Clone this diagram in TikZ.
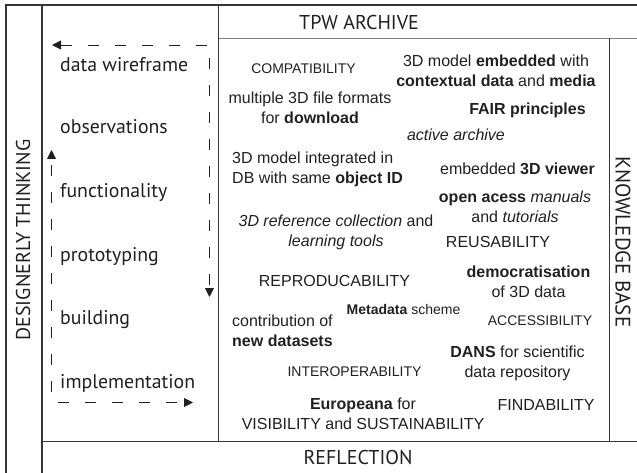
\documentclass[tikz,border=0pt]{standalone}
\usepackage{fontspec}
\setmainfont{Liberation Sans}
\newfontfamily\myr{PT Sans}
\usetikzlibrary{arrows.meta}
\definecolor{ink}{HTML}{231F20}
\begin{document}
\begin{tikzpicture}[x=1pt,y=-1pt,
  frame/.style={line width=1.1pt, draw=ink!90},
  sepline/.style={line width=1.8pt, draw=black!50},
  lbl/.style={font=\myr\fontsize{20}{24}\selectfont, text=ink, inner sep=0pt},
  stepitem/.style={font=\myr\fontsize{19.8}{24}\selectfont, text=ink, inner sep=0pt, anchor=base west},
  body/.style={font=\fontsize{16}{20}\selectfont, align=center, text=ink, inner sep=0pt},
  smallcap/.style={font=\fontsize{14}{17}\selectfont, text=ink, inner sep=0pt},
  bigcap/.style={font=\fontsize{16}{20}\selectfont, text=ink, inner sep=0pt},
  dasharr/.style={line width=0.9pt, draw=ink, dash pattern=on 11pt off 16pt,
    arrows={-Triangle[length=9pt,width=9pt]}}
]
\useasboundingbox (0,0) rectangle (637,473);

% frame
\draw[frame] (6,473) -- (6,5) -- (637,5);
\draw[frame] (42,5) -- (42,473);
\draw[frame] (218.5,5) -- (218.5,441.5);
\draw[sepline] (218.5,38.5) -- (637,38.5);
\draw[frame] (609.5,38.5) -- (609.5,441.5);
\draw[frame] (42,441.5) -- (637,441.5);

% headings
\node[lbl, anchor=base] (tpw) at (359,30) {TPW ARCHIVE};
\node[lbl, anchor=base] (refl) at (358,464) {REFLECTION};
\node[lbl, rotate=90] (design) at (23,240) {DESIGNERLY THINKING};
\node[lbl, rotate=-90, font=\myr\fontsize{21}{24}\selectfont] (know) at (623,242) {KNOWLEDGE BASE};

% left list
\node[stepitem] (s1) at (60,71.5) {data wireframe};
\node[stepitem] (s2) at (60,134) {observations};
\node[stepitem] (s3) at (60,197) {functionality};
\node[stepitem] (s4) at (60,261) {prototyping};
\node[stepitem] (s5) at (60,324.5) {building};
\node[stepitem] (s6) at (60,388) {implementation};

% dashed cycle arrows
\coordinate (a1) at (52,45);
\coordinate (a2) at (209.5,45);
\coordinate (a3) at (209.5,297);
\draw[dasharr, arrows={Triangle[length=9pt,width=9pt]-Triangle[length=9pt,width=9pt]}] (a1) -- (a2) -- (a3);
\coordinate (b1) at (51.5,150);
\coordinate (b2) at (51.5,392);
\coordinate (b3) at (58,402.5);
\coordinate (b4) at (193,402.5);
\draw[dasharr] (b2) -- (b1);
\draw[dasharr] (b3) -- (b4);

% archive content
\node[smallcap] (compat) at (303.5,69) {COMPATIBILITY};
\node[body] (embed) at (496,71) {3D model \textbf{embedded} with\\\textbf{contextual data} and \textbf{media}};
\node[body] (formats) at (310,107.5) {multiple 3D file formats\\for \textbf{download}};
\node[body] (fair) at (527.5,110) {\textbf{FAIR principles}};
\node[body] (active) at (456,135) {\textit{active archive}};
\node[body, align=left, anchor=west] (integ) at (232,169.5) {3D model integrated in\\DB with same \textbf{object ID}};
\node[body] (viewer) at (517.5,169) {embedded \textbf{3D viewer}};
\node[body] (open) at (515,206.5) {\textbf{open acess} \textit{manuals}\\and \textit{tutorials}};
\node[body] (refcol) at (336,232) {\textit{3D reference collection} and\\\textit{learning tools}};
\node[bigcap] (reus) at (498,242) {REUSABILITY};
\node[body] (democ) at (528.5,282) {\textbf{democratisation}\\of 3D data};
\node[bigcap] (repro) at (334.5,281) {REPRODUCABILITY};
\node[body, font=\fontsize{14}{16}\selectfont] (meta) at (403.5,309) {\textbf{Metadata} scheme};
\node[body, align=left, anchor=west] (contrib) at (232,330.5) {contribution of\\\textbf{new datasets}};
\node[smallcap] (access) at (540,321) {ACCESSIBILITY};
\node[body] (dans) at (517.5,363.5) {\textbf{DANS} for scientific\\data repository};
\node[smallcap] (interop) at (354.5,372) {INTEROPERABILITY};
\node[body] (europ) at (363,413.5) {\textbf{Europeana} for\\VISIBILITY and SUSTAINABILITY};
\node[bigcap] (find) at (546,405) {FINDABILITY};
\end{tikzpicture}
\end{document}
